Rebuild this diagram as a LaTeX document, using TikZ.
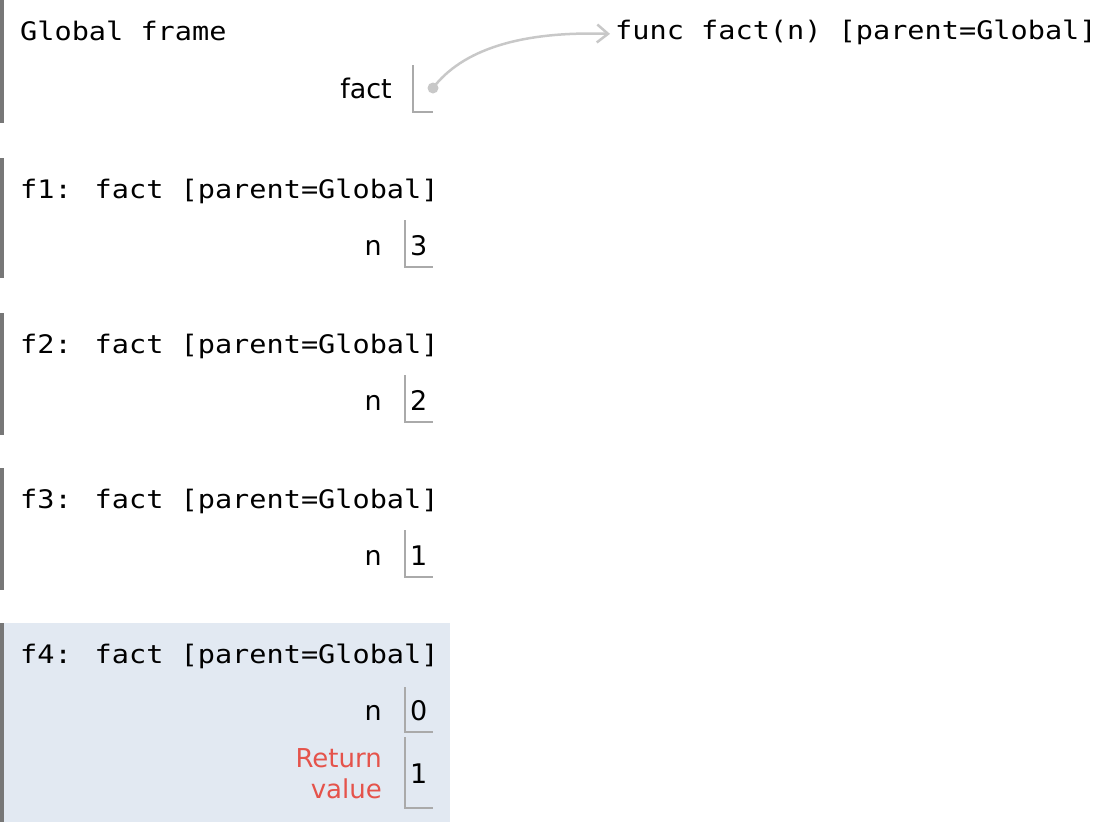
\documentclass[tikz,border=0pt]{standalone}
\usepackage{fontspec}
\usetikzlibrary{arrows.meta}
\newfontfamily\framefont[FakeStretch=1.12]{DejaVu Sans Mono}
\newfontfamily\varfont{DejaVu Sans}
\definecolor{bargray}{HTML}{777777}
\definecolor{boxgray}{HTML}{AAAAAA}
\definecolor{ptrgray}{HTML}{C8C8C8}
\definecolor{activebg}{HTML}{E2E9F2}
\definecolor{retred}{HTML}{E5534B}

\begin{document}
\begin{tikzpicture}[
  x=1pt, y=-1pt,
  every node/.style = {inner sep=0pt},
  frametitle/.style = {anchor=base west, font=\framefont\fontsize{25.5}{30}\selectfont},
  varname/.style = {anchor=base east, font=\varfont\fontsize{27}{31}\selectfont},
  varval/.style = {anchor=base west, font=\varfont\fontsize{27}{31}\selectfont},
  retlabel/.style = {anchor=east, align=right, text=retred,
    font=\varfont\fontsize{26}{31}\selectfont},
  framebar/.style = {draw=bargray, line width=4pt},
  valbox/.style = {draw=boxgray, line width=1.3pt},
  pointer/.style = {draw=ptrgray, line width=2.5pt,
    -{Straight Barb[length=11pt, width=18pt]}}
  ]
  \useasboundingbox (0,0) rectangle (1101,822);
  \fill[activebg] (0,623) rectangle (450,822);

  % global frame
  \draw[framebar] (2,0) -- (2,123);
  \node[frametitle] (globaltitle) at (20,40) {Global frame};
  \node[varname] (factname) at (392,98) {fact};
  \draw[valbox] (413,65) -- (413,112) -- (433,112);
  \node[circle, fill=ptrgray, minimum size=11pt] (factptr) at (433,88) {};

  % function object
  \node[anchor=base west, font=\framefont\fontsize{25.5}{30}\selectfont]
    (factfunc) at (615,39) {func fact(n) [parent=Global]};
  \draw[pointer] (factptr.center) .. controls (462,50) and (520,31) .. ([xshift=-5pt,yshift=-2pt]factfunc.west);

  % f1
  \draw[framebar] (2,158) -- (2,278);
  \node[frametitle] (fonetitle) at (20,198) {f1: fact [parent=Global]};
  \node[varname] (fonen) at (382,255) {n};
  \draw[valbox] (405,220) -- (405,267) -- (433,267);
  \node[varval] (fonenval) at (410,255) {3};

  % f2
  \draw[framebar] (2,313) -- (2,435);
  \node[frametitle] (ftwotitle) at (20,353) {f2: fact [parent=Global]};
  \node[varname] (ftwon) at (382,410) {n};
  \draw[valbox] (405,375) -- (405,422) -- (433,422);
  \node[varval] (ftwonval) at (410,410) {2};

  % f3
  \draw[framebar] (2,468) -- (2,590);
  \node[frametitle] (fthreetitle) at (20,508) {f3: fact [parent=Global]};
  \node[varname] (fthreen) at (382,565) {n};
  \draw[valbox] (405,530) -- (405,577) -- (433,577);
  \node[varval] (fthreenval) at (410,565) {1};

  % f4 (active)
  \draw[framebar] (2,623) -- (2,822);
  \node[frametitle] (ffourtitle) at (20,663) {f4: fact [parent=Global]};
  \node[varname] (ffourn) at (382,720) {n};
  \draw[valbox] (405,687) -- (405,732) -- (433,732);
  \node[varval] (ffournval) at (410,720) {0};
  \node[retlabel] (ffourret) at (382,774) {Return\\value};
  \draw[valbox] (405,737) -- (405,808) -- (433,808);
  \node[varval] (ffourretval) at (410,783) {1};
\end{tikzpicture}
\end{document}
